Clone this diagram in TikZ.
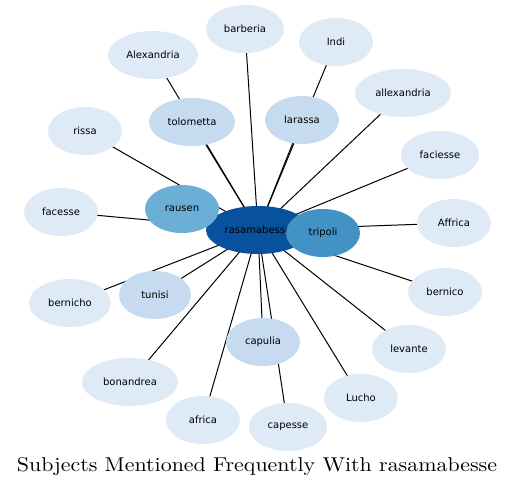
\documentclass[tikz,border=0pt]{standalone}
\usepackage{fontspec}
\usepackage{graphicx}
\newfontfamily\labelfont{DejaVu Sans}
\newfontfamily\titlefont[Extension=.otf]{lmroman10-regular}
\usetikzlibrary{shapes.geometric}
\pgfdeclarelayer{bg}
\pgfsetlayers{bg,main}
\definecolor{cA}{HTML}{DEEBF7}
\definecolor{cB}{HTML}{C6DBEF}
\definecolor{cC}{HTML}{6BAED6}
\definecolor{cD}{HTML}{4292C6}
\definecolor{cE}{HTML}{08519C}
\tikzset{
  bub/.style={ellipse, inner sep=0pt, minimum height=48pt, font=\labelfont\fontsize{10}{12}\selectfont, text=black},
  leafA/.style={bub, fill=cA},
  leafB/.style={bub, fill=cB},
  edge/.style={draw=black, line width=1pt}
}
\begin{document}
\begin{tikzpicture}[x=1pt,y=1pt]
\useasboundingbox (0,0) rectangle (515,-488);
\node[bub, fill=cE, minimum width=104pt] (c) at (258,-230) {rasamabesse};
\node[bub, fill=cD, minimum width=74pt] (tripoli) at (323,-233) {tripoli};
\node[bub, fill=cC, minimum width=74pt] (rausen) at (182,-209) {rausen};
\node[leafB, minimum width=86pt] (tolometta) at (192,-122) {tolometta};
\node[leafB, minimum width=74pt] (larassa) at (302,-120) {larassa};
\node[leafB, minimum width=72pt] (tunisi) at (155,-295) {tunisi};
\node[leafB, minimum width=74pt] (capulia) at (263,-342) {capulia};
\node[leafA, minimum width=78pt] (barberia) at (245,-29) {barberia};
\node[leafA, minimum width=74pt] (Indi) at (336,-42) {Indi};
\node[leafA, minimum width=90pt] (Alexandria) at (153,-55) {Alexandria};
\node[leafA, minimum width=96pt] (allexandria) at (403,-93) {allexandria};
\node[leafA, minimum width=74pt] (rissa) at (85,-131) {rissa};
\node[leafA, minimum width=78pt] (faciesse) at (440,-155) {faciesse};
\node[leafA, minimum width=74pt] (facesse) at (61,-212) {facesse};
\node[leafA, minimum width=74pt] (Affrica) at (454,-223) {Affrica};
\node[leafA, minimum width=82pt] (bernicho) at (70,-303) {bernicho};
\node[leafA, minimum width=74pt] (bernico) at (445,-292) {bernico};
\node[leafA, minimum width=74pt] (levante) at (409,-349) {levante};
\node[leafA, minimum width=96pt] (bonandrea) at (130,-382) {bonandrea};
\node[leafA, minimum width=74pt] (Lucho) at (361,-398) {Lucho};
\node[leafA, minimum width=74pt] (africa) at (203,-420) {africa};
\node[leafA, minimum width=78pt] (capesse) at (288,-427) {capesse};
\node[font=\titlefont\fontsize{20}{22}\selectfont, anchor=base] (title) at (257,-471) {\scalebox{1.096}[1]{Subjects Mentioned Frequently With rasamabesse}};
\begin{pgfonlayer}{bg}
\foreach \n in {tripoli,rausen,tolometta,larassa,tunisi,capulia,barberia,Indi,Alexandria,allexandria,rissa,faciesse,facesse,Affrica,bernicho,bernico,levante,bonandrea,Lucho,africa,capesse}
  \draw[edge] (c.center) -- (\n.center);
\end{pgfonlayer}
\end{tikzpicture}
\end{document}
